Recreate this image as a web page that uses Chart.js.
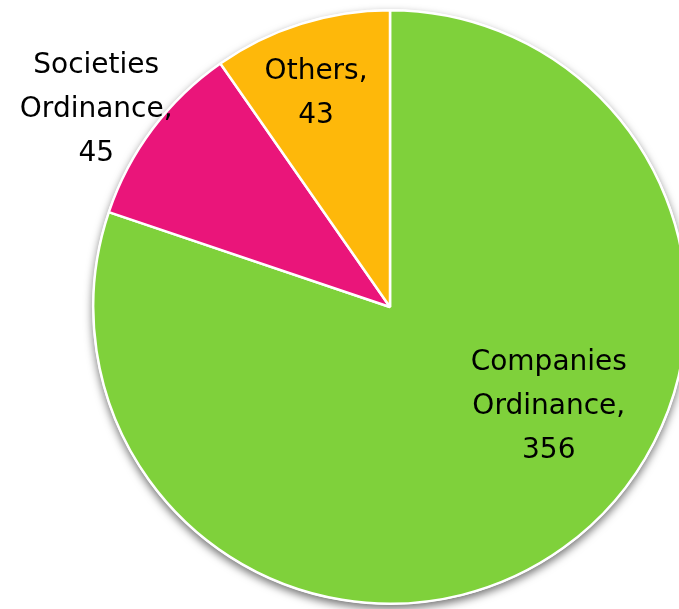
<!DOCTYPE html>
<html lang="en">
<head>
    <meta charset="UTF-8">
    <title>Registrations by Ordinance</title>
    <script src="https://cdn.jsdelivr.net/npm/chart.js"></script>
    <style>
        html, body { margin: 0; padding: 0; background: #fff; overflow: hidden; }
        #wrap { width: 700px; height: 609px; position: relative; }
    </style>
</head>
<body>
    <div id="wrap"><canvas id="pieChart"></canvas></div>

    <script>
        // Data
        const categories = ['Companies Ordinance', 'Societies Ordinance', 'Others'];
        const counts = [356, 45, 43];
        const sliceColors = ['#7FD13B', '#EA157A', '#FEB80A'];

        // label lines for each slice
        const labelLines = [
            ['Companies', 'Ordinance,', '356'],
            ['Societies', 'Ordinance,', '45'],
            ['Others,', '43']
        ];
        // label centre relative to pie centre, as a fraction of the radius
        const labelOffsets = [[0.535, 0.335], [-0.99, -0.665], [-0.249, -0.72]];

        // soft shadow under the pie
        const pieShadow = {
            id: 'pieShadow',
            beforeDatasetsDraw(chart) {
                const arc = chart.getDatasetMeta(0).data[0];
                if (!arc) return;
                const ctx = chart.ctx;
                ctx.save();
                ctx.shadowColor = 'rgba(0,0,0,0.55)';
                ctx.shadowBlur = 8;
                ctx.shadowOffsetY = 4;
                ctx.fillStyle = '#fff';
                ctx.beginPath();
                ctx.arc(arc.x, arc.y, arc.outerRadius + 1, 0, Math.PI * 2);
                ctx.fill();
                ctx.restore();
            }
        };

        // text labels
        const sliceLabels = {
            id: 'sliceLabels',
            afterDatasetsDraw(chart) {
                const arcs = chart.getDatasetMeta(0).data;
                const ctx = chart.ctx;
                ctx.save();
                ctx.font = '28px "DejaVu Sans"';
                ctx.fillStyle = '#000';
                ctx.textAlign = 'center';
                ctx.textBaseline = 'middle';
                arcs.forEach((arc, i) => {
                    const r = arc.outerRadius;
                    const cx = arc.x + labelOffsets[i][0] * r;
                    const cy = arc.y + labelOffsets[i][1] * r;
                    const lines = labelLines[i];
                    const lh = 44;
                    const top = cy - (lines.length - 1) * lh / 2;
                    lines.forEach((t, j) => ctx.fillText(t, cx, top + j * lh));
                });
                ctx.restore();
            }
        };

        new Chart(document.getElementById('pieChart'), {
            type: 'pie',
            data: {
                labels: categories,
                datasets: [{
                    data: counts,
                    backgroundColor: sliceColors,
                    borderColor: '#fff',
                    borderWidth: 2.5
                }]
            },
            options: {
                responsive: true,
                maintainAspectRatio: false,
                animation: false,
                layout: { padding: { left: 92, right: 12, top: 9, bottom: 4 } },
                plugins: {
                    legend: { display: false },
                    tooltip: { enabled: false }
                }
            },
            plugins: [pieShadow, sliceLabels]
        });
    </script>
</body>
</html>
